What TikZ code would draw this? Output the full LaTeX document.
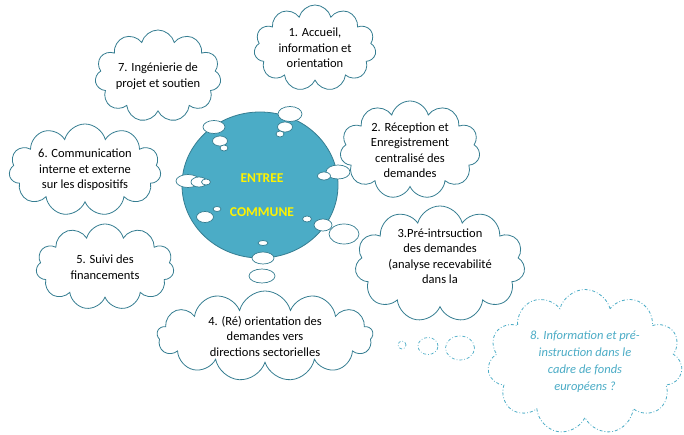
\documentclass[tikz,border=0pt]{standalone}
\usepackage{fontspec}
\setmainfont{Carlito}
\usetikzlibrary{shapes.symbols,shapes.geometric}
\definecolor{teal1}{HTML}{4BACC6}
\definecolor{teald}{HTML}{357D91}
\begin{document}
\begin{tikzpicture}[x=1pt,y=-1pt,
  cl/.style={cloud,cloud puffs=11,draw=teald,line width=0.8pt,fill=white,align=center,font=\fontsize{12.5}{15.5}\selectfont,inner sep=-18pt,aspect=1.5},
  bub/.style={ellipse,draw=teald,line width=0.7pt,fill=white,inner sep=0pt},
  dbub/.style={ellipse,draw=teal1,line width=0.7pt,dash dot,fill=white,inner sep=0pt}]
\useasboundingbox (0,0) rectangle (684,435);
\node[cl,minimum width=122pt,minimum height=86pt] (c1) at (315,48) {1. Accueil,\\information et\\orientation};
\node[cl,minimum width=126pt,minimum height=92pt] (c7) at (158,76) {7. Ingénierie de\\projet et soutien};
\node[cl,minimum width=140pt,minimum height=98pt] (c2) at (410,150) {2. Réception et\\Enregistrement\\centralisé des\\demandes};
\node[cl,minimum width=152pt,minimum height=92pt] (c6) at (85,170) {6. Communication\\interne et externe\\sur les dispositifs};
\node[cl,minimum width=138pt,minimum height=86pt] (c5) at (105,267) {5. Suivi des\\financements};
\node[cl,minimum width=170pt,minimum height=116pt] (c3) at (440,264) {3.Pré-intrsuction\\des demandes\\(analyse recevabilité\\dans la\\\phantom{x}};
\node[cl,cloud puffs=13,aspect=2.4,minimum width=216pt,minimum height=90pt,inner sep=-22pt] (c4) at (265,336) {4. (Ré) orientation des\\demandes vers\\directions sectorielles};
\node[cl,draw=teal1,dash dot,minimum width=195pt,minimum height=145pt,text=teal1,font=\fontsize{12.5}{17}\selectfont\itshape] (c8) at (585,362) {8. Information et pré-\\instruction dans le\\cadre de fonds\\européens ?};
\node[ellipse,draw=teald,line width=0.8pt,fill=teal1,minimum width=156pt,minimum height=146pt] (core) at (260,185) {};
\node[text=yellow,font=\bfseries\fontsize{13.5}{15}\selectfont] (t1) at (262,178) {ENTREE};
\node[text=yellow,font=\bfseries\fontsize{13.5}{15}\selectfont] (t2) at (262,212) {COMMUNE};
% bubbles
\node[bub,minimum width=22pt,minimum height=13pt] (b71) at (214,127) {};
\node[bub,minimum width=15pt,minimum height=10pt] (b72) at (220,141) {};
\node[bub,minimum width=8pt,minimum height=6pt] (b73) at (224,148) {};
\node[bub,minimum width=24pt,minimum height=15pt] (b11) at (290,114) {};
\node[bub,minimum width=15pt,minimum height=10pt] (b12) at (285,127) {};
\node[bub,minimum width=8pt,minimum height=6pt] (b13) at (280,134) {};
\node[bub,minimum width=24pt,minimum height=13pt] (b61) at (188,181) {};
\node[bub,minimum width=16pt,minimum height=10pt] (b62) at (199,182) {};
\node[bub,minimum width=9pt,minimum height=6pt] (b63) at (206,182) {};
\node[bub,minimum width=24pt,minimum height=14pt] (b21) at (338,172) {};
\node[bub,minimum width=13pt,minimum height=8pt] (b22) at (324,176) {};
\node[bub,minimum width=17pt,minimum height=11pt] (b51) at (205,217) {};
\node[bub,minimum width=8pt,minimum height=5pt] (b52) at (217,209) {};
\node[bub,minimum width=30pt,minimum height=20pt] (b31) at (344,234) {};
\node[bub,minimum width=18pt,minimum height=12pt] (b32) at (323,225) {};
\node[bub,minimum width=9pt,minimum height=6pt] (b33) at (307,219) {};
\node[bub,minimum width=10pt,minimum height=5pt] (b41) at (263,243) {};
\node[bub,minimum width=22pt,minimum height=12pt] (b42) at (263,258) {};
\node[bub,minimum width=26pt,minimum height=14pt] (b43) at (262,276) {};
\node[dbub,minimum width=8pt,minimum height=8pt] (b81) at (402,345) {};
\node[dbub,minimum width=20pt,minimum height=17pt] (b82) at (428,346) {};
\node[dbub,minimum width=29pt,minimum height=24pt] (b83) at (460,348) {};
\end{tikzpicture}
\end{document}
